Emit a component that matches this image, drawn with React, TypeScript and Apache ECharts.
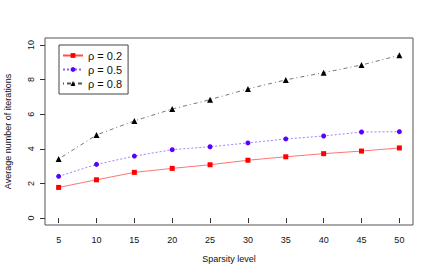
import React, { useEffect, useRef } from "react";
import * as echarts from "echarts";

const sparsity = [5, 10, 15, 20, 25, 30, 35, 40, 45, 50];
const rho02 = [1.77, 2.21, 2.64, 2.87, 3.08, 3.34, 3.54, 3.72, 3.87, 4.05];
const rho05 = [2.41, 3.1, 3.58, 3.95, 4.12, 4.34, 4.57, 4.74, 4.97, 4.99];
const rho08 = [3.41, 4.8, 5.61, 6.3, 6.84, 7.46, 7.98, 8.4, 8.84, 9.4];
const xTicks = [5, 10, 15, 20, 25, 30, 35, 40, 45, 50];
const yTicks = [0, 2, 4, 6, 8, 10];

const FONT = "Liberation Sans, Arial, Helvetica, sans-serif";

export default function App() {
  const ref = useRef<HTMLDivElement>(null);
  useEffect(() => {
    if (!ref.current) return;
    const chart = echarts.init(ref.current, undefined, { renderer: "svg" });
    const pair = (ys: number[]) => sparsity.map((x, i) => [x, ys[i]]);
    chart.setOption({
      animation: false,
      backgroundColor: "#ffffff",
      textStyle: { fontFamily: FONT },
      grid: {
        left: 45,
        right: 23,
        top: 38,
        bottom: 48,
        show: true,
        borderColor: "#555",
        borderWidth: 1,
        containLabel: false,
        outerBoundsMode: "none",
      },
      legend: {
        left: 59,
        top: 45,
        orient: "vertical",
        padding: [5, 6, 5, 3],
        itemGap: 3,
        itemWidth: 20,
        itemHeight: 6,
        borderColor: "#444",
        borderWidth: 1,
        textStyle: { fontSize: 11, color: "#111", fontFamily: FONT },
        data: ["ρ = 0.2", "ρ = 0.5", "ρ = 0.8"],
      },
      xAxis: {
        type: "value",
        min: 3.2,
        max: 51.8,
        name: "Sparsity level",
        nameLocation: "middle",
        nameGap: 29,
        nameTextStyle: { fontSize: 9, color: "#111", fontFamily: FONT },
        axisLine: { show: false },
        axisTick: {
          show: true,
          inside: false,
          length: 5,
          customValues: xTicks,
          lineStyle: { color: "#333" },
        },
        axisLabel: {
          customValues: xTicks,
          fontSize: 9,
          color: "#111",
          margin: 10,
          fontFamily: FONT,
        },
        splitLine: { show: false },
      },
      yAxis: {
        type: "value",
        min: -0.4,
        max: 10.4,
        name: "Average number of iterations",
        nameLocation: "middle",
        nameGap: 33,
        nameTextStyle: { fontSize: 9, color: "#111", fontFamily: FONT },
        axisLine: { show: false },
        axisTick: {
          show: true,
          inside: false,
          length: 5,
          customValues: yTicks,
          lineStyle: { color: "#333" },
        },
        axisLabel: {
          customValues: yTicks,
          fontSize: 9,
          color: "#111",
          rotate: 90,
          margin: 10,
          fontFamily: FONT,
        },
        splitLine: { show: false },
      },
      series: [
        {
          name: "ρ = 0.2",
          type: "line",
          data: pair(rho02),
          symbol: "rect",
          symbolSize: 5,
          itemStyle: { color: "#ff0000" },
          lineStyle: { color: "#ff5050", width: 0.8, type: "solid" },
        },
        {
          name: "ρ = 0.5",
          type: "line",
          data: pair(rho05),
          symbol: "circle",
          symbolSize: 5,
          itemStyle: { color: "#5a00ff" },
          lineStyle: { color: "#8a60ff", width: 0.8, type: [2, 2] },
        },
        {
          name: "ρ = 0.8",
          type: "line",
          data: pair(rho08),
          symbol: "triangle",
          symbolSize: 6,
          itemStyle: { color: "#000000" },
          lineStyle: { color: "#555", width: 0.8, type: [1, 3, 4, 3] },
        },
      ],
    });
    return () => chart.dispose();
  }, []);
  return (
    <div
      ref={ref}
      style={{ position: "fixed", left: 0, top: 0, width: 436, height: 273 }}
    />
  );
}
